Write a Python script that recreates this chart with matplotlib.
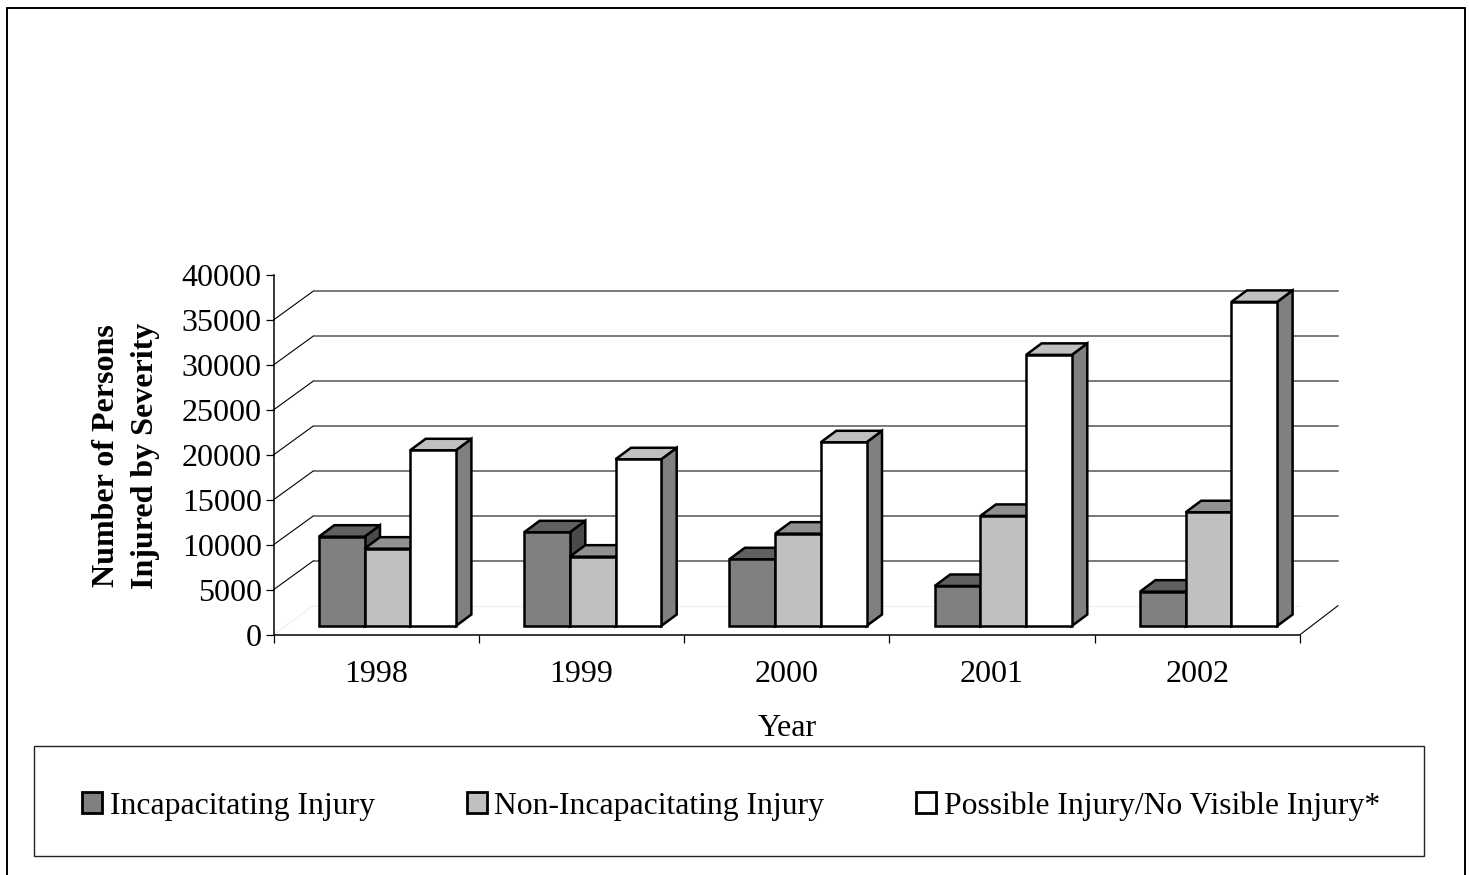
import matplotlib
matplotlib.use("Agg")
import matplotlib.pyplot as plt
from matplotlib.lines import Line2D
from matplotlib.patches import Polygon, Rectangle

plt.rcParams['font.family'] = ['Liberation Serif', 'DejaVu Serif']

years = ['1998', '1999', '2000', '2001', '2002']
incapacitating = [9930, 10420, 7420, 4450, 3820]
non_incapacitating = [8600, 7710, 10270, 12240, 12650]
possible = [19540, 18540, 20430, 30150, 36040]
series_names = ['Incapacitating Injury', 'Non-Incapacitating Injury', 'Possible Injury/No Visible Injury*']
y_ticks = [0, 5000, 10000, 15000, 20000, 25000, 30000, 35000, 40000]

W, H = 1469, 875
# axis box in pixels
left, right, top, bottom = 273.5, 1300, 275, 634.7
px_x = 5 / (right - left)
px_y = 40000 / (bottom - top)

fig = plt.figure(figsize=(W / 100, H / 100), dpi=100)
ax = fig.add_axes([left / W, 1 - bottom / H, (right - left) / W, (bottom - top) / H])
ax.set_xlim(0, 5)
ax.set_ylim(0, 40000)
ax.patch.set_alpha(0)

# outer frame has no bottom edge in the picture, it runs off the page
fx0, fx1, fy0 = 6.5 / W, 1464.5 / W, 1 - 7.5 / H
fig.add_artist(Line2D([fx0, fx0, fx1, fx1], [0, fy0, fy0, 0], transform=fig.transFigure,
                      color='black', lw=1.4, solid_joinstyle='miter'))
fig.add_artist(Rectangle((34 / W, 1 - 856 / H), 1389.5 / W, 110 / H, transform=fig.transFigure,
                         fc='none', ec='#222222', lw=1.0))

# back wall
wall_dx = 40 * px_x
wall_dy = 29 * px_y
for v in y_ticks[1:-1]:
    ax.plot([0, wall_dx], [v, v + wall_dy], color='black', lw=0.8, clip_on=False, zorder=1)
    ax.plot([wall_dx, 5 + 38 * px_x], [v + wall_dy, v + wall_dy], color='#555555', lw=1.1, clip_on=False, zorder=1)
# very faint floor lines
ax.plot([0, wall_dx], [0, wall_dy], color='#eeeeee', lw=0.8, clip_on=False, zorder=1)
ax.plot([wall_dx, 5], [wall_dy, wall_dy], color='#eeeeee', lw=0.8, clip_on=False, zorder=1)
ax.plot([5, 5 + 38 * px_x], [0, wall_dy], color='black', lw=0.8, clip_on=False, zorder=1)

# bars
bar_w = 45.7 * px_x
bar_start = 45.3 * px_x
base = 8.7 * px_y
dx = 15.5 * px_x
dy = 11.5 * px_y
series = [incapacitating, non_incapacitating, possible]
fronts = ['#808080', '#c0c0c0', '#ffffff']
tops = ['#606060', '#909090', '#c0c0c0']
sides = ['#4a4a4a', '#606060', '#808080']
edge = dict(ec='black', lw=1.8, joinstyle='miter', clip_on=False)

for i in range(len(years)):
    for s in range(3):
        x0 = i + bar_start + s * bar_w
        x1 = x0 + bar_w
        v = base + series[s][i]
        z = 3 + i * 3 + s * 0.1
        ax.add_patch(Polygon([(x1, base), (x1 + dx, base + dy), (x1 + dx, v + dy), (x1, v)],
                             fc=sides[s], zorder=z, **edge))
        ax.add_patch(Polygon([(x0, v), (x0 + dx, v + dy), (x1 + dx, v + dy), (x1, v)],
                             fc=tops[s], zorder=z, **edge))
        ax.add_patch(Polygon([(x0, base), (x1, base), (x1, v), (x0, v)],
                             fc=fronts[s], zorder=z + 0.05, **edge))

# axes
for name in ['top', 'right']:
    ax.spines[name].set_visible(False)
for name in ['left', 'bottom']:
    ax.spines[name].set_linewidth(1.1)
    ax.spines[name].set_zorder(2)
ax.set_yticks(y_ticks)
ax.set_xticks(range(6))
ax.set_xticks([i + 0.5 for i in range(5)], labels=years, minor=True)
ax.set_xticklabels([])
ax.tick_params(axis='x', which='major', length=5.5, width=0.9)
ax.tick_params(axis='x', which='minor', length=0, labelsize=23, pad=18)
ax.tick_params(axis='y', length=5.5, width=0.9, labelsize=23, pad=3)
ax.set_xlabel('Year', fontsize=23, labelpad=18.5)
fig.text(126 / W, 1 - 456 / H, 'Number of Persons\nInjured by Severity', rotation=90,
         fontsize=23, fontweight='bold', ha='center', va='center', linespacing=1.42, multialignment='center')

# legend, frame is drawn above
handles = [Rectangle((0, 0), 1, 1, fc=c, ec='black', lw=2.0) for c in fronts]
fig.legend(handles, series_names, ncol=3, frameon=False, fontsize=22.8, loc='center',
           bbox_to_anchor=(731 / W, 1 - 806 / H), columnspacing=2.9, handlelength=0.63,
           handleheight=0.63, handletextpad=0.24, borderpad=0, borderaxespad=0)

fig.savefig('out.png', dpi=100)
